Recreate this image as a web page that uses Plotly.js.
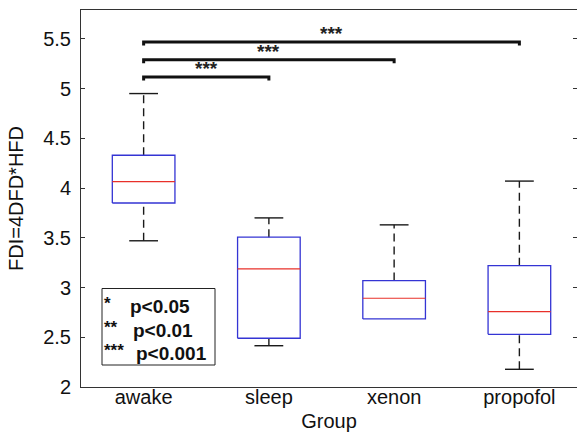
<!DOCTYPE html>
<html>
<head>
<meta charset="utf-8">
<script src="https://cdn.plot.ly/plotly-3.0.1.min.js"></script>
<style>html,body{margin:0;padding:0;background:#fff;}#chart{width:577px;height:432px;}</style>
</head>
<body>
<div id="chart"></div>
<script>
// ---- data ----
var groups = ['awake', 'sleep', 'xenon', 'propofol'];
var upperWhisker = [4.95, 3.70, 3.63, 4.07];
var q3 = [4.33, 3.506, 3.07, 3.22];
var medians = [4.065, 3.187, 2.892, 2.758];
var q1 = [3.85, 2.49, 2.684, 2.53];
var lowerWhisker = [3.47, 2.415, 2.684, 2.178];

var compareFrom = [1, 1, 1];
var compareTo = [2, 3, 4];
var compareY = [5.116, 5.29, 5.468];
var compareLabel = ['***', '***', '***'];

var legendStars = ['*', '**', '***'];
var legendText = ['p<0.05', 'p<0.01', 'p<0.001'];

// ---- build marks ----
var FONT = 'Liberation Sans, Arial, sans-serif';
var halfBox = 0.25, halfCap = 0.115, hook = 0.035;
var bx = [], by = [], mx = [], my = [], wx = [], wy = [], cx = [], cy = [];
groups.forEach(function (g, i) {
  var c = i + 1;
  bx.push(c - halfBox, c + halfBox, c + halfBox, c - halfBox, c - halfBox, null);
  by.push(q1[i], q1[i], q3[i], q3[i], q1[i], null);
  mx.push(c - halfBox, c + halfBox, null);
  my.push(medians[i], medians[i], null);
  if (upperWhisker[i] > q3[i]) {
    wx.push(c, c, null); wy.push(q3[i], upperWhisker[i], null);
    cx.push(c - halfCap, c + halfCap, null); cy.push(upperWhisker[i], upperWhisker[i], null);
  }
  if (lowerWhisker[i] < q1[i]) {
    wx.push(c, c, null); wy.push(lowerWhisker[i], q1[i], null);
    cx.push(c - halfCap, c + halfCap, null); cy.push(lowerWhisker[i], lowerWhisker[i], null);
  }
});
var sx = [], sy = [];
var annotations = [];
compareY.forEach(function (yv, k) {
  var a = compareFrom[k], b = compareTo[k];
  sx.push(a, a, b, b, null);
  sy.push(yv - hook, yv, yv, yv - hook, null);
  annotations.push({xref: 'x', yref: 'y', x: (a + b) / 2, y: yv, xanchor: 'center', yanchor: 'bottom', yshift: -3,
    text: '<b>' + compareLabel[k] + '</b>', showarrow: false, borderpad: 0,
    font: {family: FONT, size: 19, color: '#222'}});
});

var traces = [
  {x: wx, y: wy, mode: 'lines', line: {color: '#1a1a1a', width: 1.4, dash: '8px,5px'}, hoverinfo: 'skip'},
  {x: cx, y: cy, mode: 'lines', line: {color: '#1a1a1a', width: 1.4}, hoverinfo: 'skip'},
  {x: bx, y: by, mode: 'lines', line: {color: '#3434d4', width: 1.3}, hoverinfo: 'skip'},
  {x: mx, y: my, mode: 'lines', line: {color: '#e8302a', width: 1.2}, hoverinfo: 'skip'},
  {x: sx, y: sy, mode: 'lines', line: {color: '#111', width: 3}, hoverinfo: 'skip'}
];

// legend box (paper coords)
var L = 81, R = 577, T = 10, B = 387;
function px(v) { return (v - L) / (R - L); }
function py(v) { return (B - v) / (B - T); }
var lineY = [306, 330, 353];
var pX = [129, 132, 135];
legendStars.forEach(function (s, k) {
  annotations.push({xref: 'paper', yref: 'paper', x: px(103), y: py(lineY[k] - 3), xanchor: 'left', yanchor: 'middle',
    text: '<b>' + s + '</b>', showarrow: false, font: {family: FONT, size: 17, color: '#111'}, borderpad: 0});
  annotations.push({xref: 'paper', yref: 'paper', x: px(pX[k]), y: py(lineY[k]), xanchor: 'left', yanchor: 'middle',
    text: '<b>' + legendText[k] + '</b>', showarrow: false, font: {family: FONT, size: 19, color: '#111'}, borderpad: 0});
});

var layout = {
  width: 577, height: 432,
  margin: {l: 81, r: 0, t: 10, b: 45},
  paper_bgcolor: '#fff', plot_bgcolor: '#fff',
  showlegend: false,
  font: {family: FONT, size: 20, color: '#111'},
  xaxis: {
    range: [0.5, 4.46], tickmode: 'array', tickvals: [1, 2, 3, 4], ticktext: groups,
    showgrid: false, zeroline: false, showline: true, mirror: true, linecolor: '#333', linewidth: 1,
    ticks: '', ticklabelstandoff: -8,
    title: {text: 'Group', standoff: 8, font: {size: 20}}
  },
  yaxis: {
    range: [2, 5.79], tickvals: [2, 2.5, 3, 3.5, 4, 4.5, 5, 5.5], ticktext: ['2', '2.5', '3', '3.5', '4', '4.5', '5', '5.5'],
    showgrid: false, zeroline: false, showline: true, mirror: 'ticks', linecolor: '#333', linewidth: 1,
    ticks: 'inside', ticklen: 4, tickcolor: '#333', ticklabelstandoff: 5,
    title: {text: 'FDI=4DFD*HFD', standoff: 14, font: {size: 20}}
  },
  shapes: [{type: 'rect', xref: 'paper', yref: 'paper', x0: px(102), x1: px(215), y0: py(365), y1: py(288.5),
    line: {color: '#222', width: 1}, fillcolor: 'rgba(255,255,255,0)'}],
  annotations: annotations
};

Plotly.newPlot('chart', traces, layout, {staticPlot: true, displayModeBar: false});
</script>
</body>
</html>
